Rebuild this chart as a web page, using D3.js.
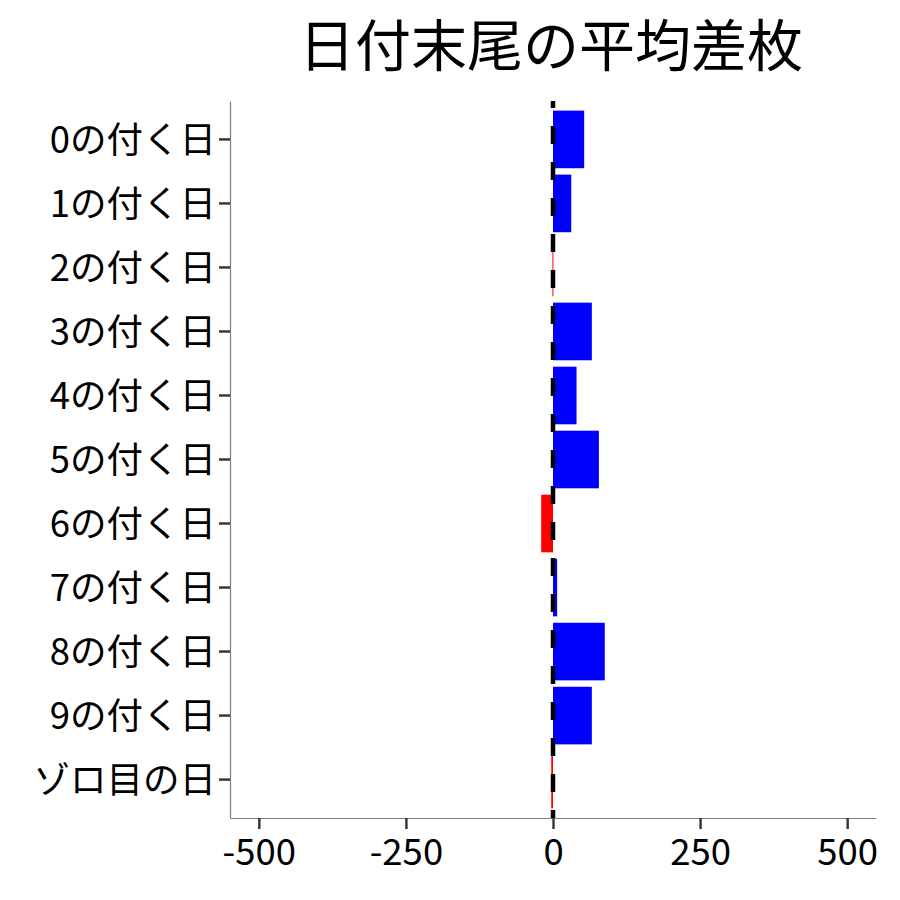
<!DOCTYPE html>
<html>
<head>
<meta charset="utf-8">
<script src="https://cdn.jsdelivr.net/npm/d3@7"></script>
<style>
  body { margin: 0; background: #fff; }
  svg { font-family: "Noto Sans CJK JP", "Noto Sans", sans-serif; }
</style>
</head>
<body>
<div id="chart"></div>
<script>
// values
const days = ["0の付く日", "1の付く日", "2の付く日", "3の付く日", "4の付く日",
  "5の付く日", "6の付く日", "7の付く日", "8の付く日", "9の付く日", "ゾロ目の日"];
const diffs = [53, 31, -1, 66, 40, 78, -20, 7, 88, 66, -3];
const xTicks = [-500, -250, 0, 250, 500];

const width = 900;
const height = 900;
const panel = { left: 230, right: 876, top: 101, bottom: 818 };

const data = days.map((d, i) => ({ day: d, value: diffs[i] }));

const svg = d3.select('#chart').append('svg')
  .attr('width', width)
  .attr('height', height)
  .attr('viewBox', `0 0 ${width} ${height}`);

const x = d3.scaleLinear()
  .domain([-549, 549])
  .range([panel.left, panel.right]);

const y = d3.scaleBand()
  .domain(days)
  .range([panel.top, panel.bottom])
  .paddingInner(0.1)
  .paddingOuter(0.15);

// bars
svg.selectAll('.bar')
  .data(data)
  .enter().append('rect')
  .classed('bar', true)
  .attr('x', d => x(Math.min(0, d.value)))
  .attr('y', d => y(d.day))
  .attr('width', d => Math.max(1, Math.abs(x(d.value) - x(0))))
  .attr('height', y.bandwidth())
  .attr('fill', d => d.value < 0 ? '#ff0000' : '#0000ff');

// dashed zero line
svg.append('line')
  .attr('x1', x(0)).attr('x2', x(0))
  .attr('y1', panel.top).attr('y2', panel.bottom)
  .attr('stroke', '#000')
  .attr('stroke-width', 4.5)
  .attr('stroke-dasharray', '18,18')
  .attr('stroke-dashoffset', 11);

// x axis
const xAxis = svg.append('g')
  .attr('transform', `translate(0,${panel.bottom})`)
  .call(d3.axisBottom(x).tickValues(xTicks).tickFormat(d => String(d))
    .tickSize(11).tickPadding(5).tickSizeOuter(0));

// y axis
const yAxis = svg.append('g')
  .attr('transform', `translate(${panel.left},0)`)
  .call(d3.axisLeft(y).tickSize(11).tickPadding(3).tickSizeOuter(0));

[xAxis, yAxis].forEach(g => {
  g.select('.domain').attr('stroke', '#7f7f7f').attr('stroke-width', 1.2);
  g.selectAll('.tick line').attr('stroke', '#333').attr('stroke-width', 2.4);
  g.selectAll('.tick text')
    .attr('fill', '#000')
    .style('font-size', '36.5px')
    .style('font-family', '"Noto Sans CJK JP", sans-serif');
});
xAxis.selectAll('.tick text').attr('dy', '0.85em');
yAxis.selectAll('.tick text').attr('dy', '0.36em');

// title
svg.append('text')
  .attr('x', (panel.left + panel.right) / 2 - 2)
  .attr('y', 66)
  .attr('text-anchor', 'middle')
  .style('font-size', '56px')
  .attr('fill', '#000')
  .text('日付末尾の平均差枚');
</script>
</body>
</html>
